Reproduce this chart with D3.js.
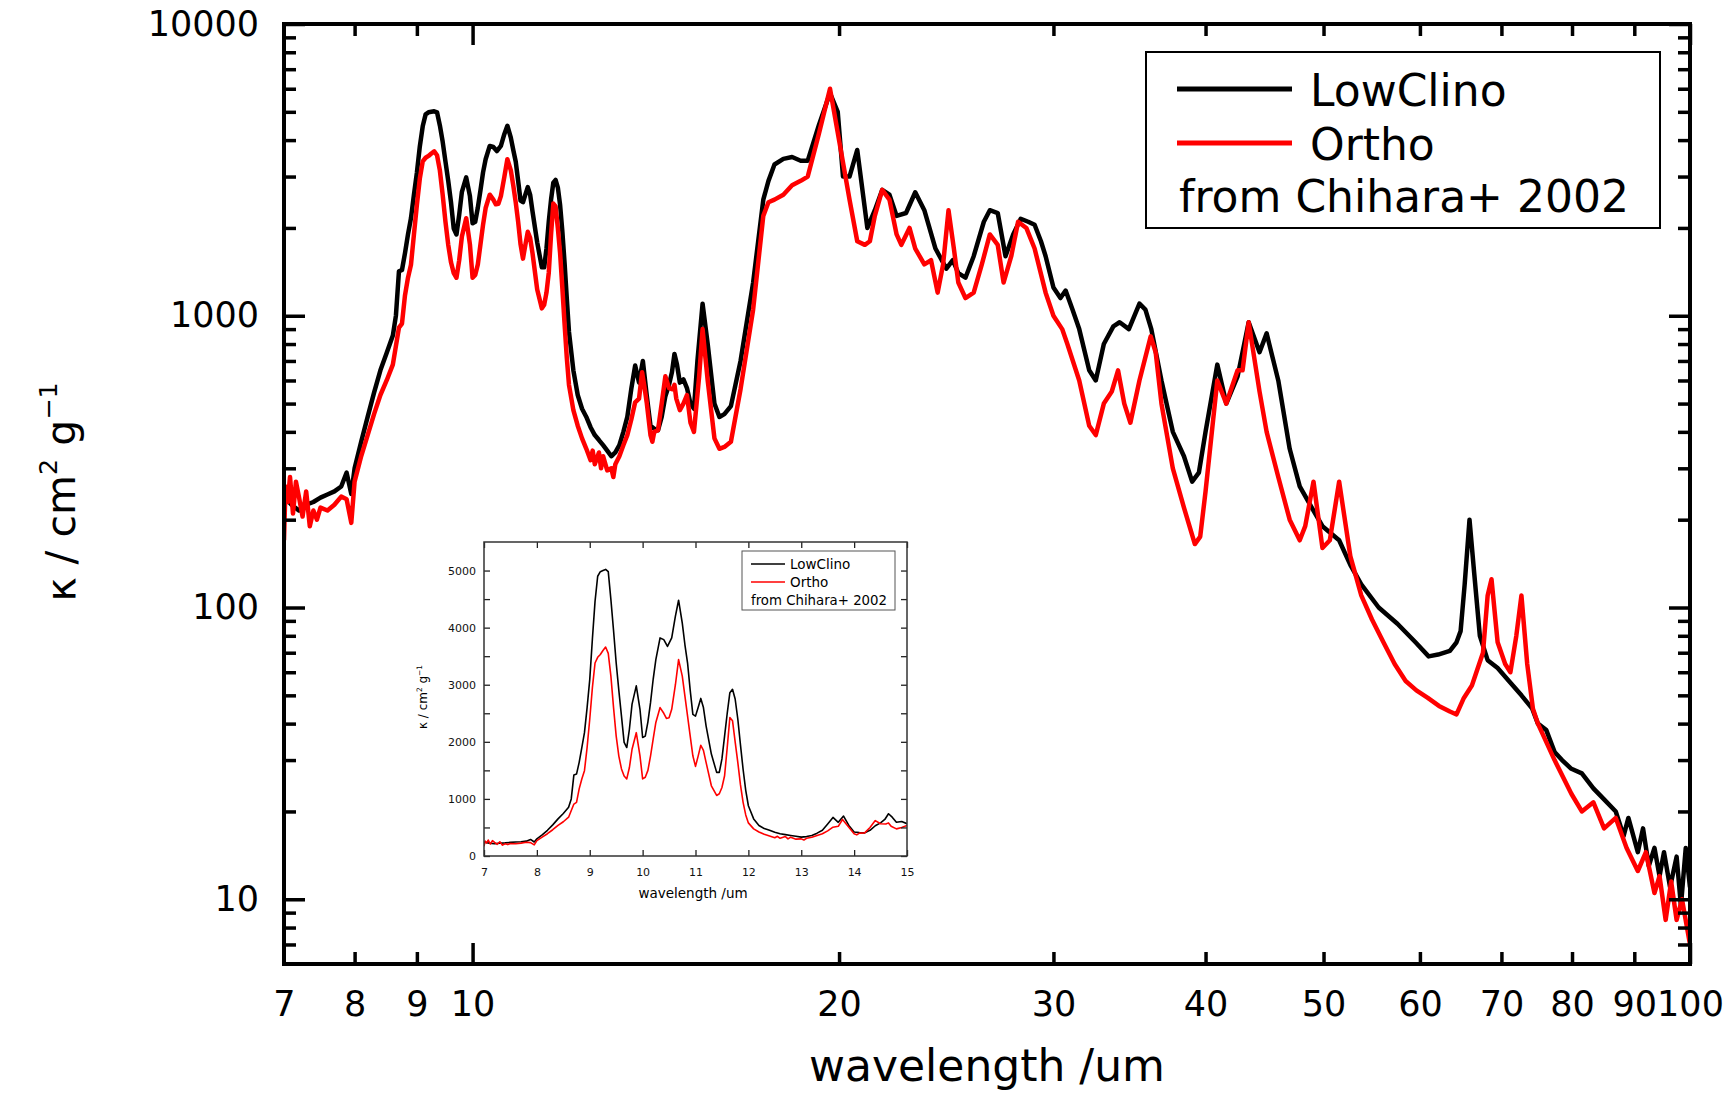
<!DOCTYPE html>
<html>
<head>
<meta charset="utf-8">
<script src="https://cdn.jsdelivr.net/npm/d3@7"></script>
<style>
  html, body { margin: 0; padding: 0; background: #ffffff; }
  svg { display: block; }
</style>
</head>
<body>
<svg id="chart" width="1735" height="1094"></svg>
<script>
// Mass absorption coefficient of enstatite polymorphs (Chihara et al. 2002)
const seriesNames = ["LowClino", "Ortho"];
const seriesColors = ["#000000", "#ff0000"];
const sourceNote = "from Chihara+ 2002";

// wavelength in um
const lowClinoWavelength = [
  7.0, 7.1, 7.2, 7.3, 7.4, 7.5, 7.6, 7.7, 7.8, 7.88, 7.95, 8.0, 8.1, 8.2, 8.3, 8.4, 8.5, 8.6, 8.65, 8.7,
  8.75, 8.8, 8.85, 8.9, 8.95, 9.0, 9.05, 9.1, 9.15, 9.2, 9.25, 9.3, 9.35, 9.4, 9.45, 9.5, 9.55, 9.6, 9.65, 9.7,
  9.75, 9.8, 9.88, 9.95, 10.0, 10.05, 10.1, 10.15, 10.2, 10.25, 10.33, 10.4, 10.47, 10.55, 10.62, 10.68, 10.75, 10.8, 10.85, 10.9,
  10.95, 11.0, 11.05, 11.1, 11.15, 11.2, 11.3, 11.4, 11.45, 11.5, 11.55, 11.6, 11.65, 11.7, 11.75, 11.8, 11.85, 11.9, 11.95, 12.0,
  12.1, 12.2, 12.3, 12.4, 12.5, 12.6, 12.7, 12.8, 12.9, 13.0, 13.1, 13.2, 13.3, 13.4, 13.5, 13.6, 13.7, 13.8, 13.9, 14.0,
  14.1, 14.2, 14.3, 14.4, 14.5, 14.58, 14.65, 14.72, 14.8, 14.9, 15.0, 15.1, 15.2, 15.3, 15.45, 15.6, 15.8, 15.95, 16.1, 16.3,
  16.6, 17.0, 17.33, 17.5, 17.7, 18.0, 18.3, 18.6, 18.85, 19.25, 19.66, 19.95, 20.15, 20.4, 20.7, 21.1, 21.4, 21.7, 22.0, 22.3,
  22.7, 23.1, 23.5, 24.0, 24.5, 24.8, 25.06, 25.4, 25.8, 26.3, 26.6, 27.0, 27.4, 27.8, 28.2, 28.6, 28.95, 29.3, 29.56, 30.0,
  30.4, 30.7, 31.1, 31.5, 32.1, 32.5, 33.0, 33.6, 34.0, 34.6, 35.3, 35.7, 36.1, 36.8, 37.6, 38.4, 39.0, 39.5, 40.0, 40.9,
  41.6, 42.5, 43.4, 44.3, 44.9, 45.9, 46.9, 47.8, 48.9, 49.9, 51.5, 52.6, 53.7, 55.5, 57.5, 59.5, 61.0, 62.1, 63.5, 64.3,
  64.8, 65.3, 65.9, 66.5, 67.2, 68.2, 69.5, 71.0, 72.7, 74.2, 75.0, 76.2, 77.4, 78.5, 79.9, 81.5, 83.3, 85.0, 86.9, 88.2,
  89.0, 90.6, 91.5, 92.5, 93.5, 94.4, 95.2, 96.3, 97.5, 98.3, 99.2, 100.0
];
// kappa in cm^2 g^-1
const lowClinoKappa = [
  240, 225, 215, 225, 230, 238, 244, 250, 260, 290, 245, 300, 370, 450, 545, 650, 745, 855, 1000, 1420,
  1435, 1640, 1900, 2160, 2600, 3090, 3800, 4460, 4900, 4980, 5000, 5020, 4980, 4490, 3950, 3380, 2900, 2450, 1990, 1900,
  2220, 2660, 2980, 2570, 2075, 2100, 2350, 2690, 3100, 3440, 3820, 3790, 3670, 3820, 4200, 4480, 4080, 3700, 3380, 2900,
  2480, 2450, 2600, 2760, 2600, 2280, 1785, 1465, 1465, 1700, 2100, 2500, 2860, 2920, 2750, 2400, 1950, 1520, 1150, 880,
  650, 535, 480, 450, 415, 390, 375, 360, 345, 330, 340, 360, 400, 450, 560, 675, 590, 700, 535, 420,
  410, 405, 450, 530, 580, 640, 740, 680, 590, 605, 565, 500, 480, 700, 1100, 800, 500, 450, 460, 490,
  700, 1300, 2500, 2900, 3300, 3450, 3500, 3400, 3400, 4500, 5800, 5000, 3000, 3000, 3700, 2000, 2300, 2700, 2600, 2200,
  2250, 2650, 2300, 1700, 1450, 1550, 1400, 1350, 1600, 2100, 2300, 2250, 1600, 1900, 2150, 2100, 2050, 1800, 1600, 1250,
  1150, 1220, 1050, 900, 650, 600, 800, 920, 950, 900, 1100, 1050, 900, 600, 400, 330, 270, 290, 400, 680,
  500, 620, 950, 750, 870, 600, 350, 260, 220, 190, 170, 140, 120, 100, 88, 76, 68, 69, 71, 76,
  83, 120, 200, 130, 80, 66, 62, 56, 50, 45, 40, 38, 32, 30, 28, 27, 24, 22, 20, 16.5,
  19, 14.5, 17.5, 13, 15, 12, 14.5, 11, 14, 9.5, 15, 11
];

const orthoWavelength = [
  7.0, 7.02, 7.05, 7.08, 7.12, 7.16, 7.2, 7.25, 7.3, 7.35, 7.4, 7.45, 7.5, 7.6, 7.7, 7.8, 7.88, 7.95, 8.0, 8.1,
  8.2, 8.3, 8.4, 8.5, 8.6, 8.7, 8.75, 8.8, 8.85, 8.9, 8.95, 9.0, 9.05, 9.1, 9.15, 9.2, 9.25, 9.3, 9.35, 9.4,
  9.45, 9.5, 9.55, 9.6, 9.65, 9.7, 9.75, 9.8, 9.88, 9.95, 10.0, 10.05, 10.1, 10.15, 10.2, 10.25, 10.33, 10.4, 10.45, 10.5,
  10.55, 10.62, 10.68, 10.75, 10.8, 10.85, 10.9, 10.95, 11.0, 11.05, 11.1, 11.15, 11.2, 11.3, 11.4, 11.45, 11.5, 11.55, 11.6, 11.65,
  11.7, 11.75, 11.8, 11.85, 11.9, 11.95, 12.0, 12.1, 12.2, 12.3, 12.4, 12.5, 12.55, 12.6, 12.7, 12.75, 12.8, 12.9, 13.0, 13.05,
  13.1, 13.2, 13.3, 13.4, 13.5, 13.6, 13.7, 13.78, 13.85, 13.9, 14.0, 14.05, 14.1, 14.2, 14.3, 14.4, 14.5, 14.6, 14.65, 14.7,
  14.8, 14.9, 15.0, 15.1, 15.2, 15.35, 15.45, 15.6, 15.8, 15.95, 16.1, 16.3, 16.6, 17.0, 17.33, 17.5, 17.7, 18.0, 18.3, 18.6,
  18.85, 19.25, 19.66, 20.0, 20.4, 20.7, 21.0, 21.2, 21.4, 21.7, 22.0, 22.3, 22.5, 22.85, 23.1, 23.5, 23.8, 24.1, 24.35, 24.6,
  24.85, 25.06, 25.4, 25.8, 26.2, 26.6, 27.0, 27.3, 27.7, 28.06, 28.5, 28.95, 29.56, 30.0, 30.5, 30.8, 31.5, 32.1, 32.5, 33.0,
  33.5, 33.9, 34.3, 34.7, 35.3, 36.06, 36.4, 36.8, 37.6, 38.4, 39.2, 39.6, 40.0, 40.9, 41.6, 42.5, 42.9, 43.4, 44.3, 44.9,
  45.9, 46.9, 47.8, 48.3, 49.06, 49.9, 50.6, 51.5, 52.6, 53.7, 54.8, 56.0, 57.2, 58.4, 59.6, 60.9, 62.2, 63.5, 64.3, 65.2,
  66.2, 67.6, 68.2, 68.7, 69.5, 70.5, 71.2, 72.0, 72.7, 73.5, 74.3, 75.0, 77.4, 79.9, 81.5, 83.3, 85.0, 86.9, 88.7, 90.6,
  92.0, 93.5, 94.4, 95.5, 96.5, 97.5, 98.5, 100.0
];
const orthoKappa = [
  170, 260, 230, 280, 210, 270, 240, 205, 250, 190, 215, 200, 220, 215, 225, 240, 235, 195, 270, 330,
  390, 460, 535, 600, 680, 910, 940, 1175, 1350, 1495, 1900, 2395, 2950, 3380, 3480, 3530, 3600, 3660, 3550, 3150,
  2600, 2100, 1750, 1525, 1400, 1350, 1550, 1870, 2160, 1755, 1350, 1380, 1500, 1755, 2050, 2340, 2600, 2500, 2410, 2420,
  2570, 3000, 3440, 3150, 2800, 2450, 2100, 1755, 1570, 1750, 1940, 1850, 1640, 1230, 1060, 1090, 1200, 1405, 1900, 2425,
  2370, 2000, 1640, 1250, 940, 720, 580, 475, 420, 380, 350, 320, 345, 310, 340, 300, 330, 295, 300, 280,
  310, 330, 360, 390, 440, 505, 520, 640, 560, 505, 390, 370, 400, 405, 500, 620, 565, 560, 580, 520,
  475, 500, 535, 430, 400, 620, 900, 600, 380, 350, 355, 370, 560, 1050, 2200, 2450, 2500, 2600, 2800, 2900,
  3000, 4200, 6000, 4000, 2500, 1800, 1750, 1800, 2200, 2700, 2500, 1900, 1750, 2000, 1700, 1500, 1550, 1200, 1500, 2300,
  1700, 1300, 1150, 1200, 1500, 1900, 1750, 1300, 1600, 2100, 2000, 1700, 1200, 1000, 900, 800, 600, 420, 390, 500,
  550, 650, 500, 430, 600, 850, 750, 500, 300, 220, 165, 175, 250, 600, 500, 650, 650, 950, 550, 400,
  280, 200, 170, 190, 270, 160, 170, 270, 150, 110, 91, 76, 64, 56, 52, 49, 46, 44, 43, 49,
  54, 70, 110, 125, 76, 64, 60, 80, 110, 64, 45, 40, 30, 23, 20, 21.5, 17.5, 19, 15, 12.5,
  14.5, 10.5, 12, 8.5, 11.5, 8.5, 10, 7
];

const xTickLabels = [7, 8, 9, 10, 20, 30, 40, 50, 60, 70, 80, 90, 100];
const xMajorTicks = [10, 100];
const xMinorTicks = [8, 9, 20, 30, 40, 50, 60, 70, 80, 90];
const yTickLabels = [10, 100, 1000, 10000];
const insetXTickLabels = [7, 8, 9, 10, 11, 12, 13, 14, 15];
const insetYTickLabels = [0, 1000, 2000, 3000, 4000, 5000];
const insetYMinorTicks = [500, 1500, 2500, 3500, 4500];

const FONT = "'DejaVu Sans', 'Noto Sans', 'Liberation Sans', sans-serif";

const svg = d3.select("#chart");

// ---------------- main log-log panel ----------------
const M = { left: 284, right: 1690, top: 24, bottom: 964 };
const x = d3.scaleLog().domain([7, 100]).range([M.left, M.right]);
const y = d3.scaleLog().domain([6, 10000]).range([M.bottom, M.top]);

const yMinorTicks = [];
[10, 100, 1000].forEach(dec => { for (let k = 2; k <= 9; k++) yMinorTicks.push(k * dec); });
[7, 8, 9].forEach(v => yMinorTicks.push(v));

svg.append("defs").append("clipPath").attr("id", "mainClip")
  .append("rect").attr("x", M.left).attr("y", M.top)
  .attr("width", M.right - M.left).attr("height", M.bottom - M.top);

const series = [
  { name: seriesNames[0], color: seriesColors[0], xs: lowClinoWavelength, ks: lowClinoKappa },
  { name: seriesNames[1], color: seriesColors[1], xs: orthoWavelength, ks: orthoKappa }
];
series.forEach(s => { s.points = s.xs.map((w, i) => [w, s.ks[i]]); });

const mainLine = d3.line().x(d => x(d[0])).y(d => y(d[1]));
const curves = svg.append("g").attr("clip-path", "url(#mainClip)");
series.forEach(s => {
  curves.append("path").datum(s.points)
    .attr("d", mainLine)
    .attr("fill", "none")
    .attr("stroke", s.color)
    .attr("stroke-width", 4.5)
    .attr("stroke-linejoin", "round");
});

function styleTicks(g, w) {
  g.select(".domain").remove();
  g.selectAll(".tick line").attr("stroke", "#000").attr("stroke-width", w);
}

// inward ticks on all four sides
const tickW = 3.5;
[[d3.axisBottom, M.bottom, xMinorTicks, 12], [d3.axisBottom, M.bottom, xMajorTicks, 21],
 [d3.axisTop, M.top, xMinorTicks, 12], [d3.axisTop, M.top, xMajorTicks, 21]].forEach(([ax, pos, vals, len]) => {
  svg.append("g").attr("transform", `translate(0,${pos})`)
    .call(ax(x).tickValues(vals).tickSize(-len).tickFormat(""))
    .call(g => styleTicks(g, tickW));
});
[[d3.axisLeft, M.left, yMinorTicks, 12], [d3.axisLeft, M.left, yTickLabels, 21],
 [d3.axisRight, M.right, yMinorTicks, 12], [d3.axisRight, M.right, yTickLabels, 21]].forEach(([ax, pos, vals, len]) => {
  svg.append("g").attr("transform", `translate(${pos},0)`)
    .call(ax(y).tickValues(vals).tickSize(-len).tickFormat(""))
    .call(g => styleTicks(g, tickW));
});

// tick labels
svg.append("g").attr("transform", `translate(0,${M.bottom})`)
  .call(d3.axisBottom(x).tickValues(xTickLabels).tickSize(0).tickPadding(27).tickFormat(d3.format("d")))
  .call(g => {
    g.select(".domain").remove();
    g.selectAll("text").attr("font-family", FONT).attr("font-size", 35).attr("fill", "#000");
  });
svg.append("g").attr("transform", `translate(${M.left},0)`)
  .call(d3.axisLeft(y).tickValues(yTickLabels).tickSize(0).tickPadding(25).tickFormat(d3.format("d")))
  .call(g => {
    g.select(".domain").remove();
    g.selectAll("text").attr("font-family", FONT).attr("font-size", 35).attr("fill", "#000");
  });

// frame
svg.append("rect").attr("x", M.left).attr("y", M.top)
  .attr("width", M.right - M.left).attr("height", M.bottom - M.top)
  .attr("fill", "none").attr("stroke", "#000").attr("stroke-width", 4);

// axis titles
svg.append("text").attr("x", 987).attr("y", 1081)
  .attr("text-anchor", "middle").attr("font-family", FONT).attr("font-size", 44)
  .text("wavelength /um");

function kappaTitle(g, fs) {
  const t = g.append("text").attr("text-anchor", "middle").attr("font-family", FONT).attr("font-size", fs);
  t.append("tspan").text("κ / cm");
  t.append("tspan").attr("font-size", fs * 0.62).attr("dy", -fs * 0.45).text("2");
  t.append("tspan").attr("dy", fs * 0.45).text(" g");
  t.append("tspan").attr("font-size", fs * 0.62).attr("dy", -fs * 0.45).text("−1");
  return t;
}
kappaTitle(svg.append("g").attr("transform", "translate(75,492) rotate(-90)"), 41);

// legend
const L = svg.append("g");
L.append("rect").attr("x", 1146).attr("y", 52).attr("width", 514).attr("height", 176)
  .attr("fill", "#fff").attr("stroke", "#000").attr("stroke-width", 2);
series.forEach((s, i) => {
  const yy = 89 + i * 54;
  L.append("line").attr("x1", 1177).attr("x2", 1292).attr("y1", yy).attr("y2", yy)
    .attr("stroke", s.color).attr("stroke-width", 5);
  L.append("text").attr("x", 1310).attr("y", yy + 17).attr("font-family", FONT).attr("font-size", 44)
    .text(s.name);
});
L.append("text").attr("x", 1179).attr("y", 212).attr("font-family", FONT).attr("font-size", 44)
  .text(sourceNote);

// ---------------- linear inset, 7-15 um ----------------
const I = { left: 484, right: 907, top: 542, bottom: 856 };
const xi = d3.scaleLinear().domain([7, 15]).range([I.left, I.right]);
const yi = d3.scaleLinear().domain([0, 5500]).range([I.bottom, I.top]);

svg.append("defs").append("clipPath").attr("id", "insetClip")
  .append("rect").attr("x", I.left).attr("y", I.top)
  .attr("width", I.right - I.left).attr("height", I.bottom - I.top);

const inset = svg.append("g");
inset.append("rect").attr("x", I.left).attr("y", I.top)
  .attr("width", I.right - I.left).attr("height", I.bottom - I.top).attr("fill", "#fff");

const insetLine = d3.line().x(d => xi(d[0])).y(d => yi(d[1]));
const insetCurves = inset.append("g").attr("clip-path", "url(#insetClip)");
series.forEach(s => {
  insetCurves.append("path").datum(s.points.filter(p => p[0] <= 15.05))
    .attr("d", insetLine).attr("fill", "none").attr("stroke", s.color)
    .attr("stroke-width", 1.6).attr("stroke-linejoin", "round");
});

const insetTickColor = "#222";
function styleInset(g) {
  g.select(".domain").remove();
  g.selectAll(".tick line").attr("stroke", insetTickColor).attr("stroke-width", 1.3);
  g.selectAll("text").attr("font-family", FONT).attr("font-size", 11).attr("fill", "#111");
}
inset.append("g").attr("transform", `translate(0,${I.bottom})`)
  .call(d3.axisBottom(xi).tickValues(insetXTickLabels).tickSize(-6).tickPadding(12).tickFormat(d3.format("d")))
  .call(styleInset);
inset.append("g").attr("transform", `translate(0,${I.top})`)
  .call(d3.axisTop(xi).tickValues(insetXTickLabels).tickSize(-6).tickFormat(""))
  .call(styleInset);
inset.append("g").attr("transform", `translate(${I.left},0)`)
  .call(d3.axisLeft(yi).tickValues(insetYTickLabels).tickSize(-6).tickPadding(8).tickFormat(d3.format("d")))
  .call(styleInset);
inset.append("g").attr("transform", `translate(${I.left},0)`)
  .call(d3.axisLeft(yi).tickValues(insetYMinorTicks).tickSize(-6).tickFormat(""))
  .call(styleInset);
inset.append("g").attr("transform", `translate(${I.right},0)`)
  .call(d3.axisRight(yi).tickValues(insetYTickLabels.concat(insetYMinorTicks)).tickSize(-6).tickFormat(""))
  .call(styleInset);

inset.append("rect").attr("x", I.left).attr("y", I.top)
  .attr("width", I.right - I.left).attr("height", I.bottom - I.top)
  .attr("fill", "none").attr("stroke", "#333").attr("stroke-width", 1.5);

inset.append("text").attr("x", 693).attr("y", 898).attr("text-anchor", "middle")
  .attr("font-family", FONT).attr("font-size", 13.5).text("wavelength /um");
kappaTitle(inset.append("g").attr("transform", "translate(427,697) rotate(-90)"), 12);

const IL = inset.append("g");
IL.append("rect").attr("x", 742).attr("y", 551).attr("width", 153).attr("height", 59)
  .attr("fill", "#fff").attr("stroke", "#555").attr("stroke-width", 1);
series.forEach((s, i) => {
  const yy = 564 + i * 18;
  IL.append("line").attr("x1", 751).attr("x2", 785).attr("y1", yy).attr("y2", yy)
    .attr("stroke", s.color).attr("stroke-width", 1.6);
  IL.append("text").attr("x", 790).attr("y", yy + 5).attr("font-family", FONT).attr("font-size", 13.5)
    .text(s.name);
});
IL.append("text").attr("x", 751).attr("y", 605).attr("font-family", FONT).attr("font-size", 13.3)
  .text(sourceNote);
</script>
</body>
</html>
